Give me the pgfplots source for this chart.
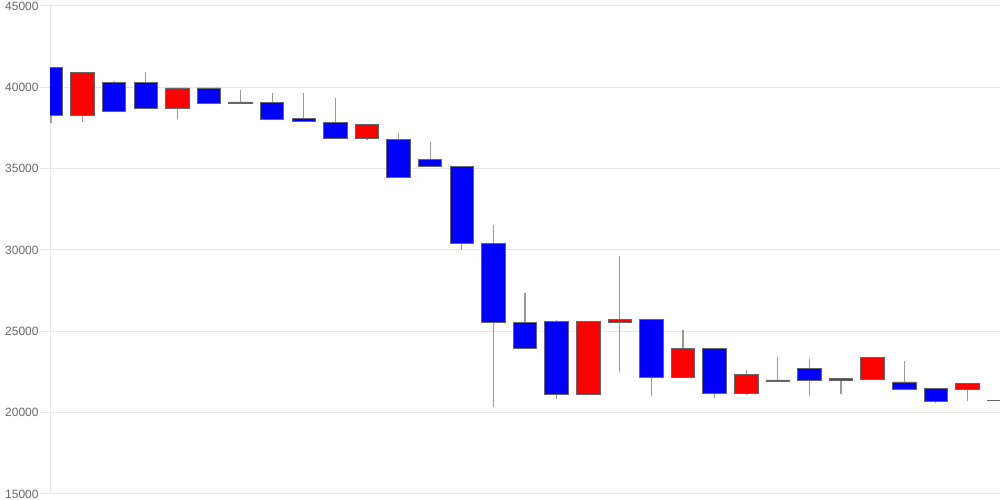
\documentclass[border=0pt]{standalone}
\usepackage{fontspec}
\setmainfont{Liberation Sans}
\usepackage{pgfplots}
\pgfplotsset{compat=1.18}
\usepackage{pgfplotstable}

\definecolor{gridc}{HTML}{E6E6E6}
\definecolor{labelc}{HTML}{666666}
\definecolor{wick}{HTML}{999999}
\definecolor{edge}{HTML}{666666}
\definecolor{upc}{HTML}{FF0000}
\definecolor{downc}{HTML}{0000FF}

% daily candles: index, open, high, low, close
\pgfplotstableread{
i  o     h     l     c
0  41210 41210 37790 38260
1  38260 40925 37855 40925
2  40270 40390 38510 38510
3  40270 40925 38715 38715
4  38715 39960 38060 39960
5  39960 39960 39000 39000
6  39000 39820 39000 39100
7  39080 39655 38040 38040
8  38080 39655 37880 37880
9  37855 39350 36850 36850
10 36850 37730 36770 37730
11 36810 37220 34480 34480
12 35580 36665 35110 35110
13 35130 35130 30010 30420
14 30420 31530 20350 25530
15 25530 27370 23950 23950
16 25630 25710 20815 21125
17 21125 25650 21125 25590
18 25570 29640 22475 25730
19 25750 25750 21040 22190
20 22190 25055 22190 23970
21 23970 23970 20900 21165
22 21165 22640 21085 22330
23 21940 23440 21940 22010
24 22745 23315 21000 22010
25 22010 22085 21145 22085
26 22045 23380 22045 23380
27 21885 23190 21370 21455
28 21490 21490 20590 20690
29 21455 21800 20715 21800
30 20730 20760 20730 20760
}\candles

\pgfplotsset{
  candle base/.style={
    scale only axis,
    width=475pt, height=244pt,
    xmin=-0.03, xmax=30.03,
    ymin=15000, ymax=45000,
  },
}

\begin{document}
\begin{tikzpicture}
% grid, y axis and wicks
\begin{axis}[
  candle base,
  name=ax,
  axis x line=none,
  axis y line=left,
  axis line style={draw=gridc, -},
  ytick={15000,20000,...,45000},
  ymajorgrids,
  major grid style={draw=gridc, line width=0.5pt},
  tick style={draw=gridc, line width=0.5pt},
  tick align=outside,
  major tick length=5pt,
  scaled y ticks=false,
  yticklabel style={font=\fontsize{6}{7}\selectfont, text=labelc, inner sep=0.5pt,
    /pgf/number format/1000 sep={}},
  /pgf/number format/assume math mode=true,
]
\addplot[draw=none, mark=none,
  error bars/.cd, y dir=plus, y explicit, error mark=none,
  error bar style={draw=wick, line width=0.6pt, solid}]
  table[x=i, y=l, y error expr=\thisrow{h}-\thisrow{l}] {\candles};
\end{axis}
% candle bodies
\begin{axis}[
  candle base,
  hide axis,
  ybar stacked,
  bar width=11.75pt,
]
\addplot[draw=none, fill=none]
  table[x=i, y expr={min(\thisrow{o},\thisrow{c})}] {\candles};
\addplot[fill=upc, draw=edge, line width=0.45pt]
  table[x=i, y expr={max(\thisrow{c}-\thisrow{o},0)}] {\candles};
\addplot[fill=downc, draw=edge, line width=0.45pt]
  table[x=i, y expr={max(\thisrow{o}-\thisrow{c},0)}] {\candles};
\end{axis}
\pgfresetboundingbox
\path[use as bounding box] ([xshift=-25pt,yshift=-3pt]ax.south west) rectangle ([yshift=3pt]ax.north east);
\end{tikzpicture}
\end{document}
